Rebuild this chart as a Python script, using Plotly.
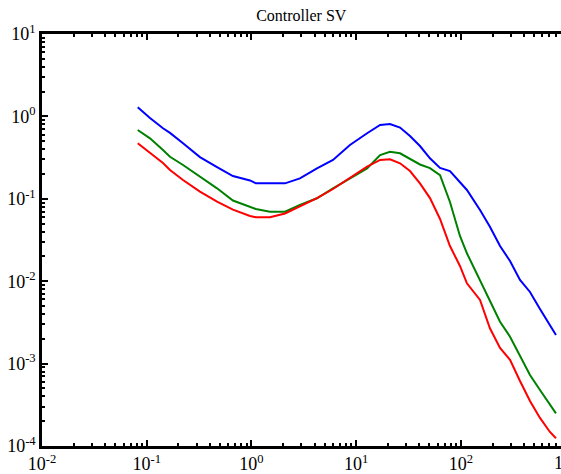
import plotly.graph_objects as go

freq = [0.082, 0.1074, 0.1429, 0.1667, 0.222, 0.322, 0.469, 0.665, 0.968, 1.10, 1.50,
        2.09, 2.90, 4.22, 6.00, 8.71, 12.7, 16.9, 21.0, 26.2, 32.6, 40.6, 50.6, 63.1,
        78.5, 97.8, 114, 152, 189, 236, 294, 366, 456, 568, 707, 807]

sv_blue = [1.29, 0.957, 0.718, 0.63, 0.472, 0.321, 0.243, 0.189, 0.167, 0.154, 0.154,
           0.154, 0.177, 0.234, 0.296, 0.45, 0.624, 0.787, 0.809, 0.733, 0.578, 0.437,
           0.31, 0.237, 0.217, 0.161, 0.128, 0.0731, 0.0458, 0.0267, 0.0176, 0.01035,
           0.0074, 0.0046, 0.00294, 0.00222]

sv_green = [0.684, 0.542, 0.391, 0.324, 0.257, 0.185, 0.134, 0.0953, 0.0807, 0.0752,
            0.0697, 0.0697, 0.0841, 0.1014, 0.134, 0.177, 0.234, 0.340, 0.373, 0.357,
            0.304, 0.261, 0.236, 0.194, 0.0914, 0.0354, 0.0218, 0.01035, 0.00592,
            0.00322, 0.00212, 0.00127, 0.000727, 0.000478, 0.000315, 0.000249]

sv_red = [0.472, 0.357, 0.272, 0.224, 0.169, 0.122, 0.0922, 0.0738, 0.0618, 0.0597,
          0.0597, 0.0664, 0.0819, 0.102, 0.1315, 0.181, 0.245, 0.296, 0.301, 0.270,
          0.217, 0.154, 0.102, 0.0569, 0.0267, 0.0153, 0.00944, 0.00592, 0.00268,
          0.00155, 0.00111, 0.000615, 0.000352, 0.000219, 0.000148, 0.000124]

x_tickvals = [0.01, 0.1, 1, 10, 100]
x_ticktext = ["10<sup>-2</sup>", "10<sup>-1</sup>", "10<sup>0</sup>", "10<sup>1</sup>", "10<sup>2</sup>"]
y_tickvals = [1e-4, 1e-3, 1e-2, 1e-1, 1, 10]
y_ticktext = ["10<sup>-4</sup>", "10<sup>-3</sup>", "10<sup>-2</sup>", "10<sup>-1</sup>",
              "10<sup>0</sup>", "10<sup>1</sup>"]

FONT = "Liberation Serif"

fig = go.Figure()
for ys, col in [(sv_blue, "#0000FF"), (sv_green, "#008000"), (sv_red, "#FF0000")]:
    fig.add_trace(go.Scatter(x=freq, y=ys, mode="lines", line=dict(color=col, width=2),
                             showlegend=False))

axis_common = dict(
    type="log", showgrid=False, zeroline=False, showline=True, linecolor="black",
    linewidth=2.5, ticks="inside", ticklen=6, tickwidth=1.5, tickcolor="black",
    tickfont=dict(family=FONT, size=18, color="black"),
    minor=dict(ticks="inside", ticklen=3, tickwidth=1.5, tickcolor="black",
               dtick="D1", showgrid=False),
)

fig.update_xaxes(range=[-2, 2.955], tickvals=x_tickvals, ticktext=x_ticktext,
                 mirror="ticks", **axis_common)
fig.update_yaxes(range=[-4, 1], tickvals=y_tickvals, ticktext=y_ticktext,
                 mirror=False, **axis_common)

fig.add_annotation(text="10<sup>3</sup>", xref="paper", yref="paper", x=1.0096, y=0,
                   xanchor="center", yanchor="top", yshift=-2, showarrow=False,
                   font=dict(family=FONT, size=18, color="black"))

fig.update_layout(
    width=561, height=474,
    margin=dict(l=42, r=0, t=34, b=28),
    paper_bgcolor="white", plot_bgcolor="white",
    font=dict(family=FONT, color="black"),
    title=dict(text="Controller SV", x=0.537, xanchor="center", y=0.968, yanchor="middle",
               font=dict(family=FONT, size=16, color="black")),
)

fig.write_html("out.html")
